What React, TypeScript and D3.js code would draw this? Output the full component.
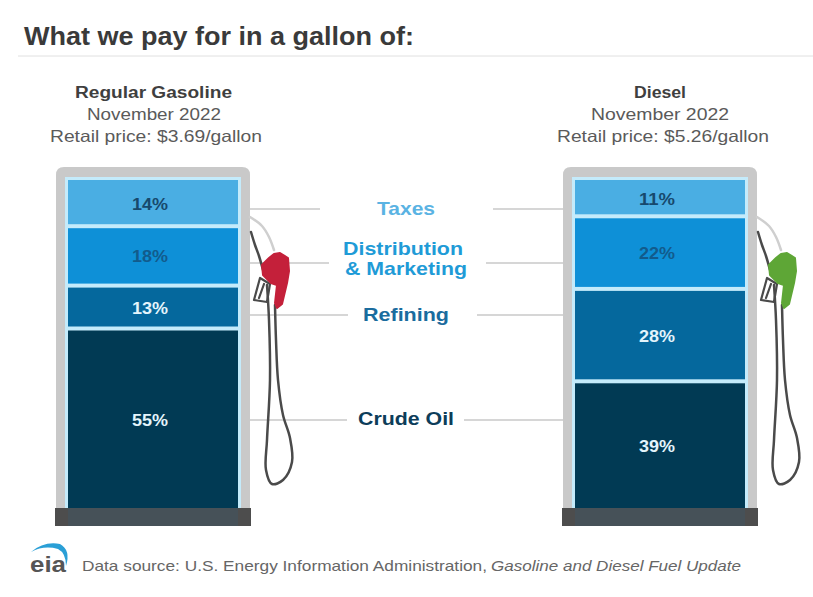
import React from "react";
import * as d3 from "d3";

const gasolineShares = [55, 13, 18, 14];
const dieselShares = [39, 28, 22, 11];
const fuelNames = ["Regular Gasoline", "Diesel"];
const fuelDates = ["November 2022", "November 2022"];
const fuelPrices = ["Retail price: $3.69/gallon", "Retail price: $5.26/gallon"];

const segmentFills = ["#013a54", "#05689d", "#0e90d7", "#4aaee3"];
const shareInk = ["#e4f5fc", "#e4f5fc", "#125b8c", "#17496d"];
const FONT = "'Liberation Sans', Arial, sans-serif";

const y = d3.scaleLinear().domain([0, 100]).range([510, 180]);

const hoseLine = d3.line().curve(d3.curveCatmullRom.alpha(0.5));

type FitProps = {
  x: number;
  y: number;
  w: number;
  size: number;
  fill: string;
  bold?: boolean;
  italic?: boolean;
  middle?: boolean;
  children: string;
};

// Text set to a fixed run length, so the wide letterforms of this layout hold their measure.
function Fit({ x, y: yy, w, size, fill, bold, italic, middle, children }: FitProps) {
  return (
    <text
      x={middle ? x - w / 2 : x}
      y={yy}
      textLength={w}
      lengthAdjust="spacingAndGlyphs"
      fontFamily={FONT}
      fontSize={size}
      fontWeight={bold ? 700 : 400}
      fontStyle={italic ? "italic" : "normal"}
      fill={fill}
    >
      {children}
    </text>
  );
}

type PumpProps = { x0: number; shares: number[]; nozzle: string };

// One fuel pump: casing, stacked price shares, hose and nozzle.
function Pump({ x0, shares, nozzle }: PumpProps) {
  const xs = d3.scaleLinear().domain([0, 1]).range([x0, x0 + 170]);
  const stacked = d3.stack<number[]>().keys(["0", "1", "2", "3"])([shares as any]);
  return (
    <g>
      <path
        d={`M${x0 - 12},508 V175 Q${x0 - 12},167 ${x0 - 4},167 H${x0 + 174} Q${x0 + 182},167 ${x0 + 182},175 V508 Z`}
        fill="#c9c9c9"
      />
      <rect x={x0 - 3} y={177} width={176} height={331} fill="#c4ebfb" />
      {stacked.map((s, i) => {
        const top = y(s[0][1]);
        const bottom = y(s[0][0]);
        const padTop = i === 3 ? 0 : 2;
        const padBottom = i === 0 ? 0 : 2;
        return (
          <g key={i}>
            <rect
              x={xs(0)}
              y={top + padTop}
              width={xs(1) - xs(0)}
              height={bottom - top - padTop - padBottom}
              fill={segmentFills[i]}
            />
            <text
              x={xs(0.5) - 3}
              y={(top + bottom) / 2 + 6.5}
              textLength={36}
              lengthAdjust="spacingAndGlyphs"
              textAnchor="middle"
              fontFamily={FONT}
              fontWeight="700"
              fontSize={16.5}
              fill={shareInk[i]}
            >
              {shares[i]}%
            </text>
          </g>
        );
      })}
      <rect x={x0 - 13} y={508} width={196} height={18} fill="#4d4d4d" />
      <rect x={x0} y={508} width={170} height={18} fill="#465158" />
      <g transform={`translate(${x0 - 68},0)`} fill="none" strokeLinecap="round" strokeLinejoin="round">
        <path
          d={hoseLine([[250, 217], [262, 226], [269, 237], [274, 250]] as any) ?? ""}
          stroke="#cfcfcf"
          strokeWidth={2.5}
        />
        <path
          d={hoseLine([[251, 232], [255, 245], [259, 256], [263, 270]] as any) ?? ""}
          stroke="#4a4a4a"
          strokeWidth={2.5}
        />
        <path
          d={hoseLine([
            [267, 285], [269, 320], [270, 380], [267, 440], [266, 470], [272, 484],
            [283, 480], [292, 462], [290, 438], [283, 415], [278, 380], [276, 340], [275, 305],
          ] as any) ?? ""}
          stroke="#4a4a4a"
          strokeWidth={2.5}
        />
        <path d="M260,278 L254,300 L267,302 L270,284 Z M264,284 L259,298" stroke="#4a4a4a" strokeWidth={2.2} />
        <path
          d="M274,254 L280,253 L288,258 L289,271 L287,283 L282,304 L277,308 L275,303 L277,285 L271,283 L263,275 L262,265 L269,258 Z"
          fill={nozzle}
          stroke={nozzle}
          strokeWidth={2}
        />
      </g>
    </g>
  );
}

const labelRows = [
  { lines: ["Taxes"], cx: [406], ys: [215], ws: [58], color: "#5ab3e3", rowY: 209, leftEnd: 320, rightStart: 493 },
  { lines: ["Distribution", "& Marketing"], cx: [403, 406], ys: [255, 275], ws: [120, 122], color: "#1f9bd7", rowY: 263, leftEnd: 329, rightStart: 486 },
  { lines: ["Refining"], cx: [406], ys: [321], ws: [86], color: "#1a6c9e", rowY: 315, leftEnd: 348, rightStart: 477 },
  { lines: ["Crude Oil"], cx: [406], ys: [425], ws: [96], color: "#0d3d5a", rowY: 420, leftEnd: 347, rightStart: 464 },
];

const headerCols = [
  { name: [153.5, 157], date: [154, 134], price: [156, 212] },
  { name: [660, 52], date: [660, 138], price: [663, 212] },
];

export default function App() {
  return (
    <svg
      width={813}
      height={597}
      viewBox="0 0 813 597"
      style={{ position: "absolute", left: 0, top: 0, background: "#fff" }}
    >
      <Fit x={24} y={45} w={390} size={25} fill="#3a3a3a" bold>
        What we pay for in a gallon of:
      </Fit>
      <line x1={18} x2={813} y1={56} y2={56} stroke="#e0e0e0" />

      {headerCols.map((c, i) => (
        <g key={i}>
          <Fit x={c.name[0]} y={98} w={c.name[1]} size={16} fill="#3f3f3f" bold middle>{fuelNames[i]}</Fit>
          <Fit x={c.date[0]} y={120} w={c.date[1]} size={16.5} fill="#5a5a5a" middle>{fuelDates[i]}</Fit>
          <Fit x={c.price[0]} y={142} w={c.price[1]} size={16.5} fill="#5a5a5a" middle>{fuelPrices[i]}</Fit>
        </g>
      ))}

      {labelRows.map((r) => (
        <g key={r.rowY}>
          <line x1={250} x2={r.leftEnd} y1={r.rowY} y2={r.rowY} stroke="#c8c8c8" strokeWidth={1.5} />
          <line x1={r.rightStart} x2={563} y1={r.rowY} y2={r.rowY} stroke="#c8c8c8" strokeWidth={1.5} />
        </g>
      ))}

      <Pump x0={68} shares={gasolineShares} nozzle="#c4203a" />
      <Pump x0={575} shares={dieselShares} nozzle="#5ea636" />

      {labelRows.map((r) =>
        r.lines.map((line, i) => (
          <Fit key={line} x={r.cx[i]} y={r.ys[i]} w={r.ws[i]} size={19} fill={r.color} bold middle>
            {line}
          </Fit>
        ))
      )}

      {/* EIA wordmark */}
      <path d="M31,552 Q44,541 60,544 Q71,550 66,566 Q66,553 58,549 Q44,545 31,552 Z" fill="#2a9fd6" />
      <Fit x={30} y={572} w={36} size={22} fill="#555" bold>eia</Fit>

      <Fit x={82} y={571} w={405} size={15} fill="#666">Data source: U.S. Energy Information Administration,</Fit>
      <Fit x={491} y={571} w={250} size={15} fill="#666" italic>Gasoline and Diesel Fuel Update</Fit>
    </svg>
  );
}
